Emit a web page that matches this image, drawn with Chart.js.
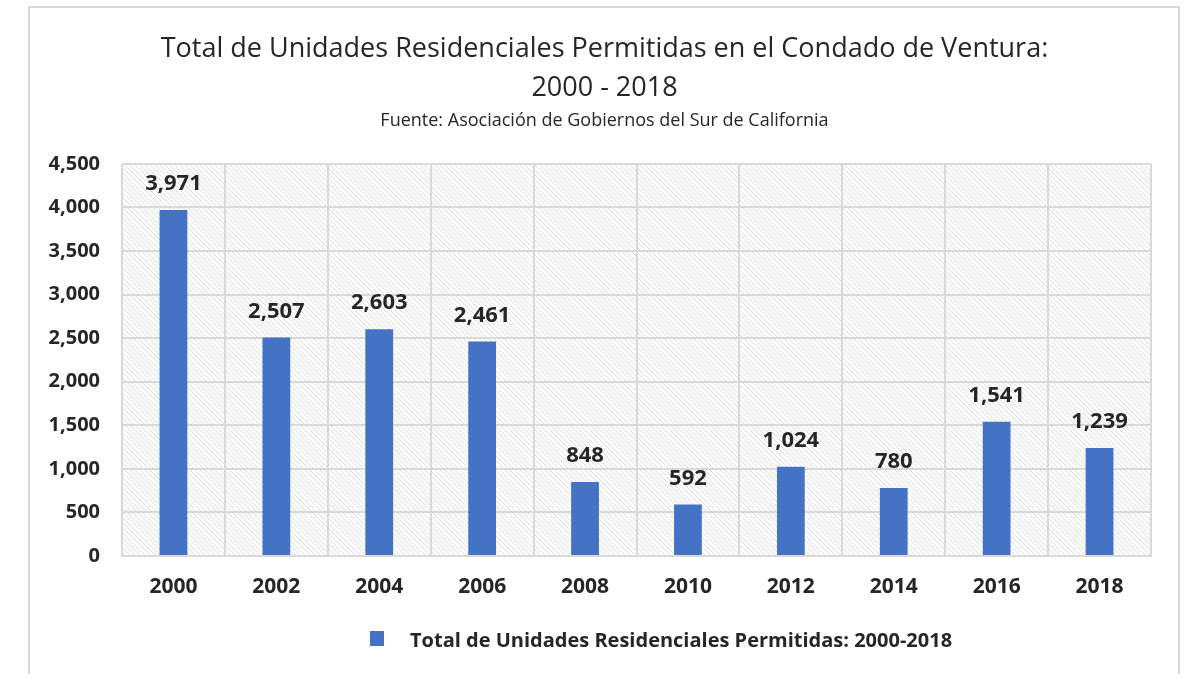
<!DOCTYPE html>
<html>
<head>
<meta charset="utf-8">
<script src="https://cdn.jsdelivr.net/npm/chart.js@4"></script>
<style>
  html, body { margin: 0; padding: 0; background: #fff; }
  #wrap { width: 1188px; height: 674px; }
</style>
</head>
<body>
<div id="wrap"><canvas id="unitsChart"></canvas></div>
<script>
const years = ["2000", "2002", "2004", "2006", "2008", "2010", "2012", "2014", "2016", "2018"];
const permits = [3971, 2507, 2603, 2461, 848, 592, 1024, 780, 1541, 1239];
const yTicks = [0, 500, 1000, 1500, 2000, 2500, 3000, 3500, 4000, 4500];
const seriesName = "Total de Unidades Residenciales Permitidas: 2000-2018";

const FONT = "'Open Sans', 'Noto Sans', sans-serif";
const INK = "#262626";
const BLUE = "#4472c4";
const fmt = (v) => v.toLocaleString("en-US");

// diagonal hatch used behind the plot area
function hatch() {
  const c = document.createElement("canvas");
  c.width = 5;
  c.height = 5;
  const g = c.getContext("2d");
  g.fillStyle = "#ffffff";
  g.fillRect(0, 0, 5, 5);
  g.strokeStyle = "#dcdcdc";
  g.lineWidth = 1;
  g.beginPath();
  g.moveTo(-1, -1);
  g.lineTo(6, 6);
  g.moveTo(-1, 4);
  g.lineTo(1, 6);
  g.moveTo(4, -1);
  g.lineTo(6, 1);
  g.stroke();
  return c;
}

const backdrop = {
  id: "backdrop",
  afterLayout(chart) {
    // the original's title and subtitle sit a little right of the plot centre
    chart.boxes.forEach((b) => {
      if (b.position === "top" && b.options && b.options.text !== undefined) {
        b.left += 14;
        b.right += 14;
      }
    });
  },
  beforeDraw(chart) {
    const { ctx, chartArea: a } = chart;
    ctx.save();
    ctx.strokeStyle = "#d9d9d9";
    ctx.lineWidth = 2;
    ctx.strokeRect(29, 7, 1150, 700);
    ctx.fillStyle = ctx.createPattern(hatch(), "repeat");
    ctx.fillRect(a.left, a.top, a.right - a.left, a.bottom - a.top);
    ctx.restore();
  },
};

const valueLabels = {
  id: "valueLabels",
  afterDatasetsDraw(chart) {
    const { ctx } = chart;
    const meta = chart.getDatasetMeta(0);
    ctx.save();
    ctx.font = "bold 22px " + FONT;
    ctx.fillStyle = INK;
    ctx.textAlign = "center";
    ctx.textBaseline = "middle";
    meta.data.forEach((bar, i) => {
      ctx.fillText(fmt(permits[i]), bar.x, bar.y - 26);
    });
    ctx.restore();
  },
};

// legend drawn by hand so it can sit off-centre like the original
const legendBox = {
  id: "legendBox",
  afterDraw(chart) {
    const { ctx } = chart;
    ctx.save();
    ctx.fillStyle = BLUE;
    ctx.fillRect(370, 631, 14, 15);
    ctx.font = "bold 20px " + FONT;
    ctx.fillStyle = INK;
    ctx.textAlign = "left";
    ctx.textBaseline = "middle";
    ctx.fillText(chart.data.datasets[0].label, 410, 641);
    ctx.restore();
  },
};

new Chart(document.getElementById("unitsChart"), {
  type: "bar",
  data: {
    labels: years,
    datasets: [
      {
        label: seriesName,
        data: permits,
        backgroundColor: BLUE,
        borderWidth: 0,
        categoryPercentage: 1,
        barPercentage: 0.27,
      },
    ],
  },
  options: {
    responsive: true,
    maintainAspectRatio: false,
    animation: false,
    layout: { padding: { left: 30, right: 37, top: 0, bottom: 56 } },
    plugins: {
      title: {
        display: true,
        text: ["Total de Unidades Residenciales Permitidas en el Condado de Ventura:", "2000 - 2018"],
        color: INK,
        font: { family: FONT, size: 27, weight: "normal", lineHeight: 1.45 },
        padding: { top: 30, bottom: 0 },
      },
      subtitle: {
        display: true,
        text: "Fuente: Asociación de Gobiernos del Sur de California",
        color: INK,
        font: { family: FONT, size: 18, weight: "normal", lineHeight: 1.2 },
        padding: { top: 2, bottom: 32 },
      },
      legend: { display: false },
      tooltip: { enabled: false },
    },
    scales: {
      x: {
        grid: { color: "#d9d9d9", lineWidth: 2, offset: true, drawTicks: false },
        border: { color: "#d9d9d9", width: 2 },
        ticks: {
          color: INK,
          font: { family: FONT, size: 21, weight: "bold" },
          padding: 18,
        },
        afterFit(scale) {
          scale.height = 62;
        },
      },
      y: {
        min: 0,
        max: 4500,
        afterBuildTicks(scale) {
          scale.ticks = yTicks.map((v) => ({ value: v }));
        },
        grid: { color: "#d9d9d9", lineWidth: 2, drawTicks: false },
        border: { display: false },
        ticks: {
          color: INK,
          font: { family: FONT, size: 20, weight: "bold" },
          padding: 22,
          callback: (v) => fmt(v),
        },
        afterFit(scale) {
          scale.width = 92;
        },
      },
    },
  },
  plugins: [backdrop, valueLabels, legendBox],
});
</script>
</body>
</html>
